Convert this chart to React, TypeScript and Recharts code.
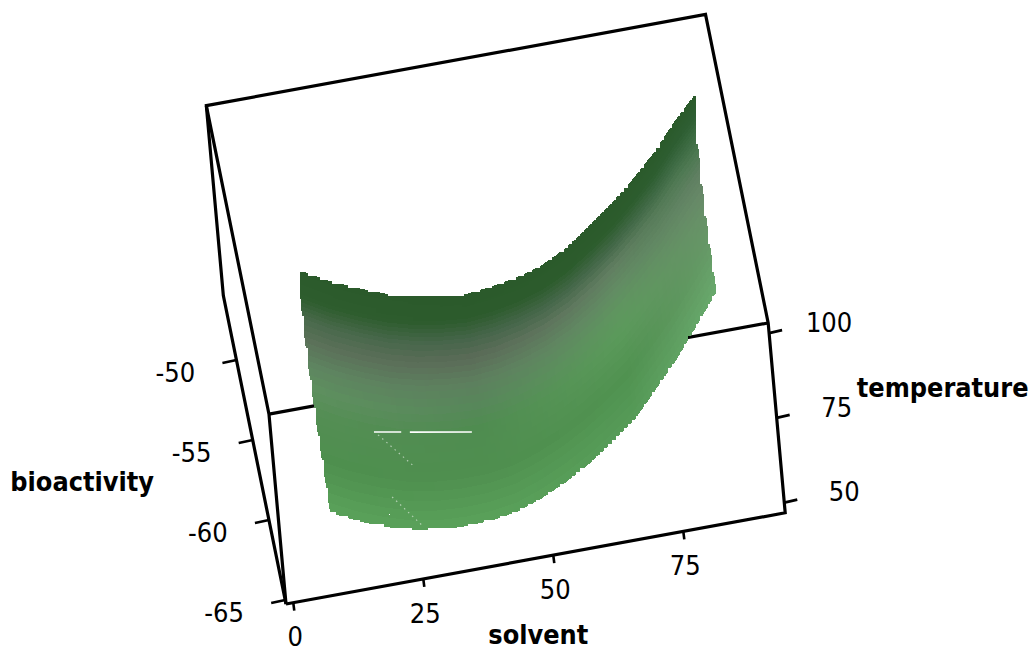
import React from 'react';
import { ScatterChart, Scatter, XAxis, YAxis } from 'recharts';

const solvents = [10, 15, 20, 25, 30, 35, 40, 45, 50, 55, 60, 65, 70, 75, 80, 85, 90];
const temperatures = [50, 60, 70, 80, 90, 100];

// bioactivity, one row per temperature
const bioactivityAt50 = [-60.85, -61.7, -62.35, -62.85, -63.1, -63.17, -63.1, -62.85, -62.3, -61.6, -60.75, -59.75, -58.6, -57.05, -55.45, -53.65, -51.8];
const bioactivityAt60 = [-57.89, -58.81, -59.53, -60.1, -60.44, -60.61, -60.63, -60.44, -60.0, -59.39, -58.61, -57.65, -56.56, -55.11, -53.6, -51.88, -50.16];
const bioactivityAt70 = [-55.96, -56.92, -57.68, -58.31, -58.72, -58.94, -59.04, -58.89, -58.52, -57.99, -57.26, -56.31, -55.25, -53.89, -52.45, -50.77, -49.16];
const bioactivityAt80 = [-55.05, -56.03, -56.81, -57.47, -57.92, -58.19, -58.33, -58.2, -57.88, -57.4, -56.69, -55.73, -54.68, -53.38, -51.98, -50.33, -48.8];
const bioactivityAt90 = [-55.16, -56.14, -56.92, -57.58, -58.04, -58.34, -58.5, -58.35, -58.08, -57.62, -56.9, -55.91, -54.85, -53.58, -52.19, -50.56, -49.08];
const bioactivityAt100 = [-56.3, -57.25, -58.0, -58.65, -59.1, -59.4, -59.55, -59.38, -59.1, -58.65, -57.9, -56.85, -55.75, -54.5, -53.1, -51.45, -50.0];
const surfaceRows = [bioactivityAt50, bioactivityAt60, bioactivityAt70, bioactivityAt80, bioactivityAt90, bioactivityAt100];

const solventTicks = [0, 25, 50, 75];
const temperatureTicks = [50, 75, 100];
const bioactivityTicks = [-50, -55, -60, -65];

// box limits in data units
const S0 = -1.4, S1 = 94.6;
const T0 = 47, T1 = 103;
const B0 = -65.25, B1 = -45.97;

// shading along a column: 0 is the back edge (temperature 100), 1 the front edge
const shadeOffsets = [0, 0.11, 0.2, 0.285, 0.39, 0.49, 0.59, 0.78, 1];
const shadeAnchors = [
  { solvent: 10, colors: ['#2b5a2b', '#2e5d2e', '#4a6a4c', '#5b7159', '#5e8560', '#5e905f', '#548e54', '#4e8f4e', '#5aa25a'] },
  { solvent: 40, colors: ['#2b5a2b', '#2c5b2c', '#46654a', '#5b6b58', '#5d7f5e', '#57875a', '#4f8c50', '#4f8f4f', '#5aa25a'] },
  { solvent: 70, colors: ['#2b5a2b', '#2c5c2c', '#45694a', '#617e61', '#628c63', '#5f965f', '#5b9a5b', '#509250', '#569b58'] },
  { solvent: 90, colors: ['#2a5a2a', '#2e5e33', '#3c6c42', '#4b7850', '#607f62', '#678868', '#689068', '#669a67', '#69aa6d'] },
];

const W = 1032;
const H = 646;
const FONT = '"DejaVu Sans Condensed", "DejaVu Sans", sans-serif';

type Pt = { x: number; y: number };

// fixed oblique view: data units -> picture position
const project = (s: number, t: number, b: number): Pt => ({
  x: 286 + 5.2 * (s - S0) - 0.304 * (t - T0) - 3.25 * (b - B0),
  y: 604 - 0.95 * (s - S0) - 3.39 * (t - T0) - 16 * (b - B0),
});

const lerp = (a: number, b: number, f: number) => a + (b - a) * f;
const lerpPt = (a: Pt, b: Pt, f: number): Pt => ({ x: lerp(a.x, b.x, f), y: lerp(a.y, b.y, f) });
const hex = (c: string, i: number) => parseInt(c.slice(1 + i * 2, 3 + i * 2), 16);

const shadeAt = (s: number, frac: number) => {
  let j = 0;
  while (j < shadeAnchors.length - 2 && s > shadeAnchors[j + 1].solvent) j++;
  const a = shadeAnchors[j];
  const b = shadeAnchors[j + 1];
  const fs = (s - a.solvent) / (b.solvent - a.solvent);
  let k = 0;
  while (k < shadeOffsets.length - 2 && frac > shadeOffsets[k + 1]) k++;
  const fo = Math.min(1, Math.max(0, (frac - shadeOffsets[k]) / (shadeOffsets[k + 1] - shadeOffsets[k])));
  const rgb = [0, 1, 2].map(i =>
    Math.round(lerp(lerp(hex(a.colors[k], i), hex(a.colors[k + 1], i), fo), lerp(hex(b.colors[k], i), hex(b.colors[k + 1], i), fo), fs))
  );
  return `rgb(${rgb.join(',')})`;
};

// one strip per solvent step, each point carries its two edges
const strips = solvents.slice(0, -1).map((s, i) => {
  const left = temperatures.map((t, r) => project(s, t, surfaceRows[r][i]));
  const right = temperatures.map((t, r) => project(solvents[i + 1], t, surfaceRows[r][i + 1]));
  return { x: left[0].x, y: left[0].y, s0: s, s1: solvents[i + 1], left, right };
});

// the surface edge is blocky in the original, so clip to a stepped outline
const stepped = (pts: Pt[], size: number) => {
  const out: number[][] = [];
  let px = Math.round(pts[0].x / size) * size;
  let py = Math.round(pts[0].y / size) * size;
  out.push([px, py]);
  for (let i = 1; i < pts.length; i++) {
    const a = pts[i - 1];
    const b = pts[i];
    const n = Math.ceil(Math.hypot(b.x - a.x, b.y - a.y));
    for (let k = 1; k <= n; k++) {
      const qx = Math.round((a.x + ((b.x - a.x) * k) / n) / size) * size;
      const qy = Math.round((a.y + ((b.y - a.y) * k) / n) / size) * size;
      if (qx !== px || qy !== py) {
        out.push([qx, py], [qx, qy]);
        px = qx;
        py = qy;
      }
    }
  }
  return out.map(p => p.join(',')).join(' ');
};

const lastRow = temperatures.length - 1;
const lastCol = solvents.length - 1;
const outline = stepped(
  [
    ...solvents.map((s, i) => project(s, temperatures[0], surfaceRows[0][i])),
    ...temperatures.map((t, r) => project(solvents[lastCol], t, surfaceRows[r][lastCol])).slice(1),
    ...solvents.map((s, i) => project(s, temperatures[lastRow], surfaceRows[lastRow][i])).reverse().slice(1),
    ...temperatures.map((t, r) => project(solvents[0], t, surfaceRows[r][0])).reverse().slice(1),
  ],
  4
);

const boxOutline = [
  project(S0, T0, B0), project(S0, T0, B1), project(S0, T1, B1), project(S1, T1, B1),
  project(S1, T1, B0), project(S1, T0, B0), project(S0, T0, B0),
];
const boxBack = [project(S0, T1, B1), project(S0, T1, B0), project(S0, T0, B0)];
const boxFloor = [project(S0, T1, B0), project(S1, T1, B0)];

const shift = (p: Pt, dx: number, dy: number) => ({ x: p.x + dx, y: p.y + dy });

const tickLines = [
  ...solventTicks.map(v => { const p = project(v, T0, B0); return [p, shift(p, 1, 8)]; }),
  ...temperatureTicks.map(v => { const p = project(S1, v, B0); return [p, shift(p, 13, -3)]; }),
  ...bioactivityTicks.map(v => { const p = project(S0, T0, v); return [p, shift(p, -14, 3)]; }),
];

const tickLabels = [
  ...solventTicks.map(v => ({ ...shift(project(v, T0, B0), 2, 34), text: String(v), bold: false })),
  ...temperatureTicks.map(v => ({ ...shift(project(S1, v, B0), 60, -11), text: String(v), bold: false })),
  ...bioactivityTicks.map(v => ({ ...shift(project(S0, T0, v), -61, 12), text: String(v), bold: false })),
];
const axisTitles = [
  { ...shift(project(50, T0, B0), -15, 79), text: 'solvent', bold: true },
  { ...shift(project(S1, 75, B0), 166, -31), text: 'temperature', bold: true },
  { ...shift(project(S0, T0, -57), -177, 9), text: 'bioactivity', bold: true },
];

// small rendering flaws of the original, given as points on the surface
const seamA = [project(19.75, 70, -60.63), project(24.8, 70, -60.93)];
const seamB = [project(26.4, 70, -61.03), project(37.9, 70, -61.71)];
const seamC = [project(20.4, 70, -60.85), project(26, 70, -63.19)];
const seamD = [project(22.1, 50, -60.59), project(26.7, 50, -62.68)];

const NoMark = () => null;

const COL_STEPS = 6;
const ROW_STEPS = 8;

// paints a strip as small flat blocks, the way the original surface looks
const StripShape = (props: any) => {
  const { cx, cy, payload } = props;
  const { left, right, s0, s1 } = payload;
  const dx = cx - payload.x;
  const dy = cy - payload.y;
  const lastIdx = left.length - 1;
  const at = (a: number, r: number, f: number) => lerpPt(lerpPt(left[r], right[r], a), lerpPt(left[r + 1], right[r + 1], a), f);
  const cells: any[] = [];
  for (let c = 0; c < COL_STEPS; c++) {
    const a0 = c / COL_STEPS;
    const a1 = (c + 1) / COL_STEPS;
    const am = (a0 + a1) / 2;
    const front = lerpPt(left[0], right[0], am);
    const back = lerpPt(left[lastIdx], right[lastIdx], am);
    for (let r = 0; r < lastIdx; r++) {
      for (let q = 0; q < ROW_STEPS; q++) {
        const f0 = q / ROW_STEPS;
        const f1 = (q + 1) / ROW_STEPS;
        const corners = [at(a0, r, f0), at(a1, r, f0), at(a1, r, f1), at(a0, r, f1)];
        const mid = at(am, r, (f0 + f1) / 2);
        const frac = (mid.y - back.y) / (front.y - back.y);
        cells.push(
          <polygon
            key={`${c}-${r}-${q}`}
            points={corners.map(p => `${p.x + dx},${p.y + dy}`).join(' ')}
            fill={shadeAt(lerp(s0, s1, am), frac)}
            shapeRendering="crispEdges"
          />
        );
      }
    }
  }
  return <g clipPath="url(#surface-clip)">{cells}</g>;
};

const LabelShape = (props: any) => {
  const { cx, cy, payload } = props;
  return (
    <text
      x={cx}
      y={cy}
      dy="0.36em"
      textAnchor="middle"
      fontFamily={FONT}
      fontSize={payload.bold ? 26.8 : 27}
      fontWeight={payload.bold ? 700 : 400}
      fill="#000"
    >
      {payload.text}
    </text>
  );
};

const edge = (pts: any[], key: string, stroke = '#000', strokeWidth = 3.2, dash?: string) => (
  <Scatter
    key={key}
    data={pts}
    line={{ stroke, strokeWidth, strokeDasharray: dash }}
    lineType="joint"
    shape={NoMark}
    isAnimationActive={false}
  />
);

export default function App() {
  return (
    <div style={{ position: 'absolute', left: 0, top: 0, width: W, height: H, overflow: 'hidden', background: '#fff' }}>
      <ScatterChart width={W} height={H} margin={{ top: 0, right: 0, bottom: 0, left: 0 }}>
        <defs>
          <clipPath id="surface-clip">
            <polygon points={outline} />
          </clipPath>
        </defs>
        <XAxis type="number" dataKey="x" domain={[0, W]} hide allowDataOverflow />
        <YAxis type="number" dataKey="y" domain={[0, H]} reversed hide allowDataOverflow />

        {edge(boxOutline, 'box')}
        {edge(boxBack, 'back')}
        {edge(boxFloor, 'floor')}
        {tickLines.map((t, i) => edge(t, `tick-${i}`, '#000', 2.6))}

        <Scatter data={strips} shape={StripShape} isAnimationActive={false} />

        {edge(seamA, 'seam-a', '#fff', 1.6)}
        {edge(seamB, 'seam-b', '#fff', 1.6)}
        {edge(seamC, 'seam-c', 'rgba(255,255,255,0.55)', 1.2, '1.5 4')}
        {edge(seamD, 'seam-d', 'rgba(255,255,255,0.55)', 1.2, '1.5 4')}

        <Scatter data={tickLabels} shape={LabelShape} isAnimationActive={false} />
        <Scatter data={axisTitles} shape={LabelShape} isAnimationActive={false} />
      </ScatterChart>
    </div>
  );
}
